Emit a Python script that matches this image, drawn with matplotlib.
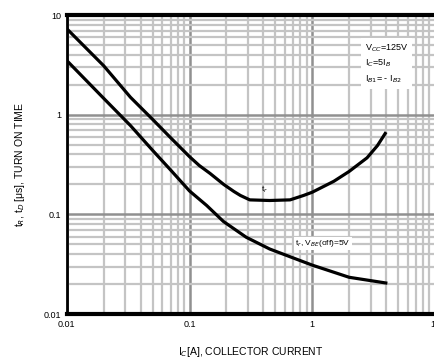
import numpy as np
import matplotlib.pyplot as plt
from matplotlib.ticker import LogLocator, NullFormatter

plt.rcParams['font.family'] = ['Liberation Sans', 'DejaVu Sans']

# collector current [A] and switching times [us]
ic_tr = [0.01, 0.02, 0.033, 0.05, 0.07, 0.1, 0.12, 0.147, 0.19, 0.23, 0.26, 0.31,
         0.45, 0.66, 0.85, 1.0, 1.5, 2.0, 2.8, 3.4, 4.0]
tr = [7.3, 3.1, 1.5, 0.9, 0.59, 0.38, 0.31, 0.258, 0.2, 0.17, 0.155, 0.14,
      0.138, 0.14, 0.155, 0.167, 0.215, 0.27, 0.37, 0.49, 0.67]

ic_td = [0.01, 0.02, 0.033, 0.05, 0.07, 0.1, 0.138, 0.189, 0.29, 0.45, 0.7, 1.0, 2.0, 4.1]
td = [3.5, 1.46, 0.78, 0.44, 0.28, 0.172, 0.123, 0.085, 0.059, 0.045, 0.0366, 0.031, 0.0234, 0.0204]

xticks = [0.01, 0.1, 1, 10]
xticklabels = ['0.01', '0.1', '1', '10']
yticks = [0.01, 0.1, 1, 10]
yticklabels = ['0.01', '0.1', '1', '10']

fig = plt.figure(figsize=(4.34, 3.61), dpi=100)
ax = fig.add_axes([0.154, 0.130, 0.848, 0.828])
ax.set_xscale('log')
ax.set_yscale('log')
ax.set_xlim(0.01, 10)
ax.set_ylim(0.01, 10)

ax.xaxis.set_minor_locator(LogLocator(base=10, subs=np.arange(2, 10)))
ax.yaxis.set_minor_locator(LogLocator(base=10, subs=np.arange(2, 10)))
ax.xaxis.set_minor_formatter(NullFormatter())
ax.yaxis.set_minor_formatter(NullFormatter())
ax.grid(True, which='minor', color='#c4c4c4', lw=1.6)
ax.grid(True, which='major', color='#909090', lw=1.8)
ax.set_axisbelow(True)

ax.set_xticks(xticks)
ax.set_xticklabels(xticklabels)
ax.set_yticks(yticks)
ax.set_yticklabels(yticklabels)
ax.tick_params(which='both', length=0, labelsize=6.5, pad=4)

for side in ['top', 'bottom']:
    ax.spines[side].set_linewidth(3)
ax.spines['left'].set_linewidth(2)
ax.spines['right'].set_visible(False)

ax.plot(ic_tr, tr, color='black', lw=2.3, solid_capstyle='butt')
ax.plot(ic_td, td, color='black', lw=2.3, solid_capstyle='butt')

ax.text(0.41, 0.175, 't$_r$', fontsize=6, ha='center', va='center')
ax.text(0.73, 0.051, 't$_r$, V$_{BE}$(off)=5V', fontsize=6, ha='left', va='center',
        bbox=dict(facecolor='white', edgecolor='none', pad=1))

ax.text(0.81, 0.91, 'V$_{CC}$=125V\nI$_C$=5I$_B$\nI$_{B1}$= - I$_{B2}$',
        transform=ax.transAxes, fontsize=6.5, ha='left', va='top', linespacing=1.5,
        bbox=dict(facecolor='white', edgecolor='none', pad=3))

ax.set_xlabel('I$_C$[A], COLLECTOR CURRENT', fontsize=7.5, labelpad=12)
ax.set_ylabel('t$_R$, t$_D$ [μs], TURN ON TIME', fontsize=7.5, labelpad=12)

fig.savefig('out.png', dpi=100)
